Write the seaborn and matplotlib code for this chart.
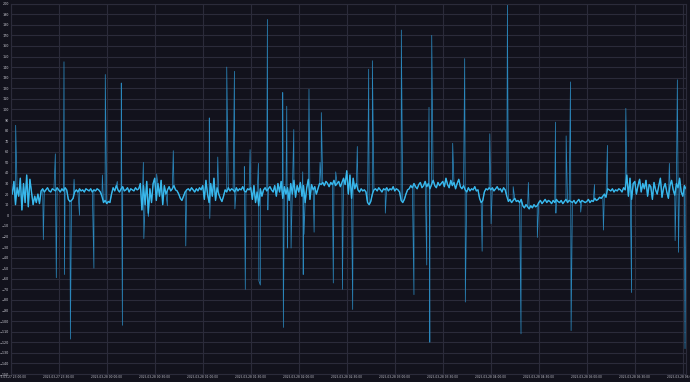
import numpy as np
import pandas as pd
import matplotlib
matplotlib.use("Agg")
import matplotlib.pyplot as plt
import matplotlib.dates as mdates
import seaborn as sns

# ---- data ----
start_time = "2025-03-27 23:00:00"
end_minutes = 422

# baseline, one value per minute from 23:00
base_values = [
    # 23:00 - 23:29
    28, 20, 32, 10, 26, 18, 35, 5, 30, 12, 38, 8, 34, 22, 10,
    18, 12, 20, 11, 23, 25, 22, 24, 26, 23, 22, 25, 24, 23, 26,
    # 23:30 - 23:59
    24, 22, 25, 23, 26, 24, 15, 13, 14, 16, 22, 24, 22, 25, 23,
    24, 22, 25, 24, 23, 25, 22, 24, 23, 25, 24, 22, 18, 12, 14,
    # 00:00 - 00:29
    11, 13, 12, 20, 26, 23, 28, 24, 22, 25, 27, 23, 24, 26, 22,
    25, 24, 23, 26, 24, 25, 30, 5, 28, 10, 32, 2, 25, 12, 30,
    # 00:30 - 00:59
    35, 14, 30, 18, 33, 10, 28, 20, 24, 27, 23, 25, 28, 24, 23,
    20, 16, 14, 18, 22, 24, 25, 23, 26, 24, 22, 25, 23, 26, 24,
    # 01:00 - 01:29
    28, 15, 33, 20, 12, 30, 18, 35, 14, 26, 20, 16, 13, 18, 24,
    22, 26, 23, 25, 24, 22, 26, 23, 25, 24, 27, 23, 22, 25, 24,
    # 01:30 - 01:59
    26, 15, 28, 12, 22, 9, 25, 18, 24, 26, 23, 25, 27, 24, 22,
    28, 18, 30, 22, 32, 16, 27, 20, 26, 14, 30, 20, 33, 17, 28,
    # 02:00 - 02:29
    22, 31, 18, 28, 12, 26, 34, 15, 29, 24, 27, 20, 25, 30, 29,
    31, 28, 32, 30, 27, 31, 29, 33, 28, 30, 32, 27, 31, 35, 29,
    # 02:30 - 02:59
    42, 20, 38, 16, 35, 25, 30, 24, 22, 25, 23, 24, 22, 12, 10,
    13, 20, 24, 25, 23, 26, 24, 22, 25, 24, 26, 23, 25, 24, 27,
    # 03:00 - 03:29
    23, 25, 24, 22, 14, 12, 15, 20, 24, 25, 28, 26, 30, 27, 25,
    29, 31, 26, 28, 32, 27, 30, 25, 29, 33, 28, 26, 31, 28, 30,
    # 03:30 - 03:59
    32, 27, 35, 29, 26, 33, 28, 31, 25, 30, 34, 27, 25, 28, 24,
    22, 26, 23, 25, 24, 27, 23, 24, 16, 12, 14, 22, 25, 24, 26,
    # 04:00 - 04:29
    24, 26, 23, 25, 27, 24, 25, 22, 26, 24, 18, 13, 15, 12, 14,
    16, 13, 14, 12, 15, 9, 7, 10, 8, 6, 9, 7, 10, 8, 9,
    # 04:30 - 04:59
    12, 14, 11, 13, 15, 12, 14, 13, 11, 14, 12, 15, 13, 12, 14,
    11, 13, 15, 12, 14, 13, 12, 14, 11, 13, 15, 12, 14, 13, 12,
    # 05:00 - 05:29
    13, 15, 12, 14, 13, 16, 14, 15, 17, 16, 18, 20, 17, 25, 24,
    23, 25, 22, 24, 23, 25, 24, 22, 26, 24, 38, 18, 35, 15, 30,
    # 05:30 - 05:59
    32, 20, 28, 34, 22, 30, 25, 33, 18, 29, 27, 15, 31, 24, 20,
    28, 35, 17, 26, 30, 22, 16, 28, 33, 24, 19, 30, 26, 35, 22,
    # 06:00 - 06:02
    18, 28, 25,
]

# single-sample spikes: minute after 23:00, value
spike_minutes = [
    3.1, 20.4, 27.9, 28.5, 33.3, 33.6, 37.3, 39.6, 43.0, 52.0,
    57.3, 59.1, 66.6, 69.1, 69.8, 82.9, 83.2, 86.0, 91.2, 97.9,
    101.6, 109.4, 124.1, 124.4, 129.4, 135.0, 139.8, 140.1, 146.0, 146.6,
    149.6, 154.8, 155.1, 156.0, 160.4, 160.7, 170.0, 170.4, 172.5, 172.9,
    175.2, 176.9, 182.5, 182.8, 183.3, 186.4, 189.6, 193.3, 194.1, 201.6,
    203.1, 207.3, 213.7, 216.6, 223.7, 226.0, 234.1, 244.1, 252.0, 260.0,
    261.4, 261.9, 263.1, 276.2, 283.7, 284.1, 294.6, 299.4, 300.2, 310.4,
    314.0, 318.9, 323.5, 329.1, 340.4, 340.7, 347.1, 349.8, 350.2, 356.2,
    364.8, 370.4, 372.9, 384.4, 388.0, 411.6, 415.2, 416.6, 417.3, 421.4,
]
spike_values = [
    85, -23, 58, -59, 145, -56, -117, 34, 0, -50,
    38, 133, 32, 125, -104, 50, -22, -1, 39, 9,
    61, -29, 92, -3, 55, 140, 136, 6, 46, -70,
    62, 49, -62, -66, 185, 5, 116, -106, 103, -31,
    -31, 81, 41, -56, -18, 119, -16, 50, 97, -64,
    41, -70, -89, 65, 138, 146, 2, 175, -75, -47,
    102, -120, 170, 68, 148, -82, -34, 77, -8, 200,
    27, -112, 31, -21, 88, 2, 75, 126, -109, 3,
    29, -14, 66, 101, -73, 49, -24, 128, -35, -126,
]

y_ticks = list(range(-150, 201, 10))

# ---- build tables ----
t0 = pd.Timestamp(start_time)
base_df = pd.DataFrame({
    "time": t0 + pd.to_timedelta(np.arange(len(base_values)), unit="min"),
    "value": base_values,
})
spike_df = pd.DataFrame({
    "time": t0 + pd.to_timedelta(spike_minutes, unit="min"),
    "value": spike_values,
})
df = pd.concat([base_df, spike_df]).sort_values("time").reset_index(drop=True)

# ---- style ----
bg = "#12121c"
grid_c = "#2b2b3a"
text_c = "#c9c9d2"
sns.set_theme(style="dark", rc={
    "axes.facecolor": bg, "figure.facecolor": bg,
    "grid.color": grid_c, "axes.edgecolor": grid_c,
})
plt.rcParams["font.family"] = ["DejaVu Sans"]

W, H = 690, 382
fig = plt.figure(figsize=(W / 100, H / 100), dpi=100)
left, right, top, bottom = 10.7, 686, 3.6, 374
ax = fig.add_axes([left / W, (H - bottom) / H, (right - left) / W, (bottom - top) / H])

# full series (with spikes) as a thin, darker trace
sns.lineplot(data=df, x="time", y="value", ax=ax, color="#2a86bb",
             linewidth=0.55, estimator=None, sort=True)
# dense baseline drawn brighter on top
sns.lineplot(data=base_df, x="time", y="value", ax=ax, color="#38b8ec",
             linewidth=1.0, estimator=None, sort=True)

ax.set_xlim(t0, t0 + pd.Timedelta(minutes=end_minutes))
ax.set_ylim(-150, 200)
ax.set_yticks(y_ticks)
ax.xaxis.set_major_locator(mdates.MinuteLocator(byminute=[0, 30]))
ax.xaxis.set_major_formatter(mdates.DateFormatter("%Y-%m-%d %H:%M:%S"))
ax.grid(True, color=grid_c, linewidth=0.8)
ax.set_axisbelow(True)
ax.tick_params(axis="both", length=0, colors=text_c)
ax.tick_params(axis="y", labelsize=2.4, pad=1.2)
ax.tick_params(axis="x", labelsize=2.1, pad=1.0)
ax.set_xlabel("")
ax.set_ylabel("")
for s in ax.spines.values():
    s.set_color(grid_c)
    s.set_linewidth(0.8)

fig.savefig("out.png", dpi=100, facecolor=bg)
